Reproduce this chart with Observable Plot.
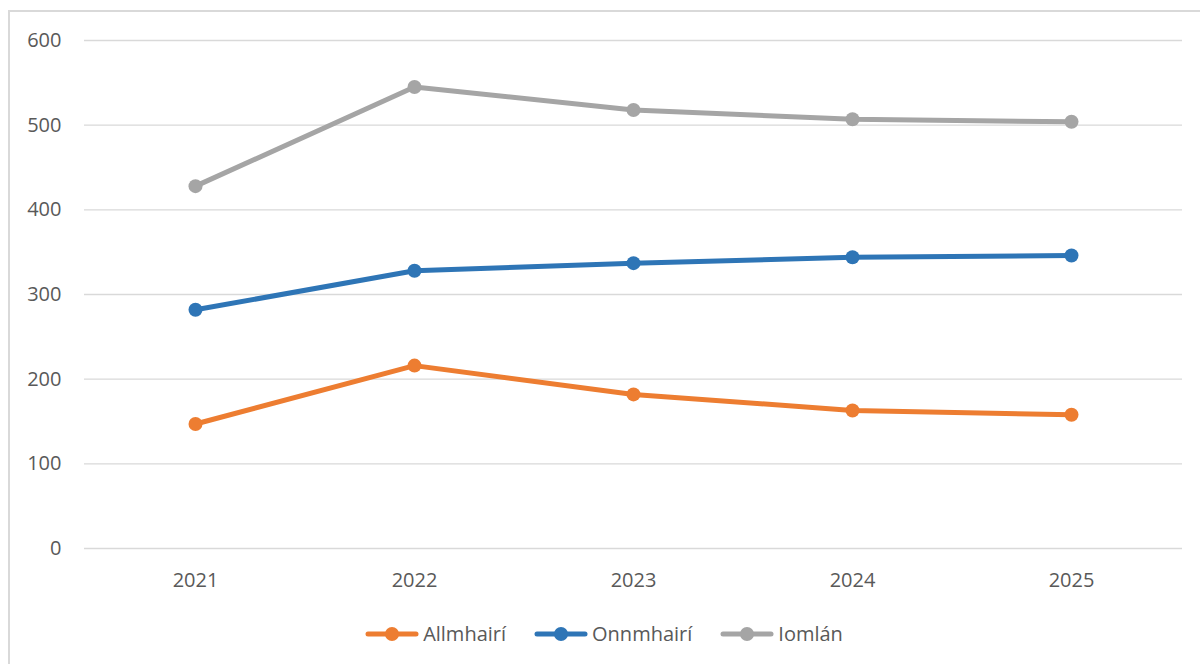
<!DOCTYPE html>
<html>
<head>
<meta charset="utf-8">
<script src="https://cdn.jsdelivr.net/npm/d3@7"></script>
<script src="https://cdn.jsdelivr.net/npm/@observablehq/plot@0.6"></script>
<style>
  html, body { margin: 0; padding: 0; background: #fff; overflow: hidden; width: 1200px; height: 664px; }
  #frame { position: absolute; left: 8px; top: 10px; width: 1400px; height: 900px; border: 2px solid #d9d9d9; box-sizing: border-box; }
  #chart { position: absolute; left: 0; top: 0; }
  #legend { position: absolute; left: 4px; top: 620px; width: 1200px; display: flex; justify-content: center; align-items: center;
            font-family: "Open Sans", sans-serif; font-size: 20px; color: #595959; }
  .item { display: flex; align-items: center; margin: 0 14px; }
  .item svg { margin-right: 4px; }
</style>
</head>
<body>
<div id="frame"></div>
<div id="chart"></div>
<div id="legend"></div>
<script>
const years = ["2021", "2022", "2023", "2024", "2025"];
const allmhairi = [147, 216, 182, 163, 158];
const onnmhairi = [282, 328, 337, 344, 346];
const iomlan = [428, 545, 518, 507, 504];
const seriesNames = ["Allmhairí", "Onnmhairí", "Iomlán"];
const seriesColors = ["#ED7D31", "#2E75B6", "#A5A5A5"];
const yTicks = [0, 100, 200, 300, 400, 500, 600];

const seriesValues = [allmhairi, onnmhairi, iomlan];
const data = [];
seriesNames.forEach((name, si) => {
  years.forEach((yr, i) => data.push({series: name, year: yr, value: seriesValues[si][i]}));
});

const chart = Plot.plot({
  width: 1200,
  height: 600,
  marginLeft: 84,
  marginRight: 18,
  marginTop: 40,
  marginBottom: 52,
  x: {type: "point", domain: years, padding: 0.5, label: null},
  y: {domain: [0, 600], label: null},
  color: {domain: seriesNames, range: seriesColors},
  style: {fontFamily: "'Open Sans', sans-serif", fontSize: "20px", color: "#595959", background: "transparent", overflow: "visible"},
  marks: [
    Plot.ruleY(yTicks, {stroke: "#d9d9d9", strokeWidth: 1.3}),
    Plot.axisY({ticks: yTicks, tickSize: 0, tickPadding: 23, label: null, fill: "#595959"}),
    Plot.axisX({tickSize: 0, tickPadding: 24, label: null, fill: "#595959"}),
    Plot.line(data, {x: "year", y: "value", z: "series", stroke: "series", strokeWidth: 5, strokeLinejoin: "round", strokeLinecap: "round"}),
    Plot.dot(data, {x: "year", y: "value", fill: "series", r: 7})
  ]
});
document.getElementById("chart").appendChild(chart);

const legend = document.getElementById("legend");
seriesNames.forEach((name, i) => {
  const item = document.createElement("div");
  item.className = "item";
  item.innerHTML = `<svg width="54" height="16"><line x1="3" y1="8" x2="51" y2="8" stroke="${seriesColors[i]}" stroke-width="5" stroke-linecap="round"/><circle cx="27" cy="8" r="7" fill="${seriesColors[i]}"/></svg><span>${name}</span>`;
  legend.appendChild(item);
});
</script>
</body>
</html>
